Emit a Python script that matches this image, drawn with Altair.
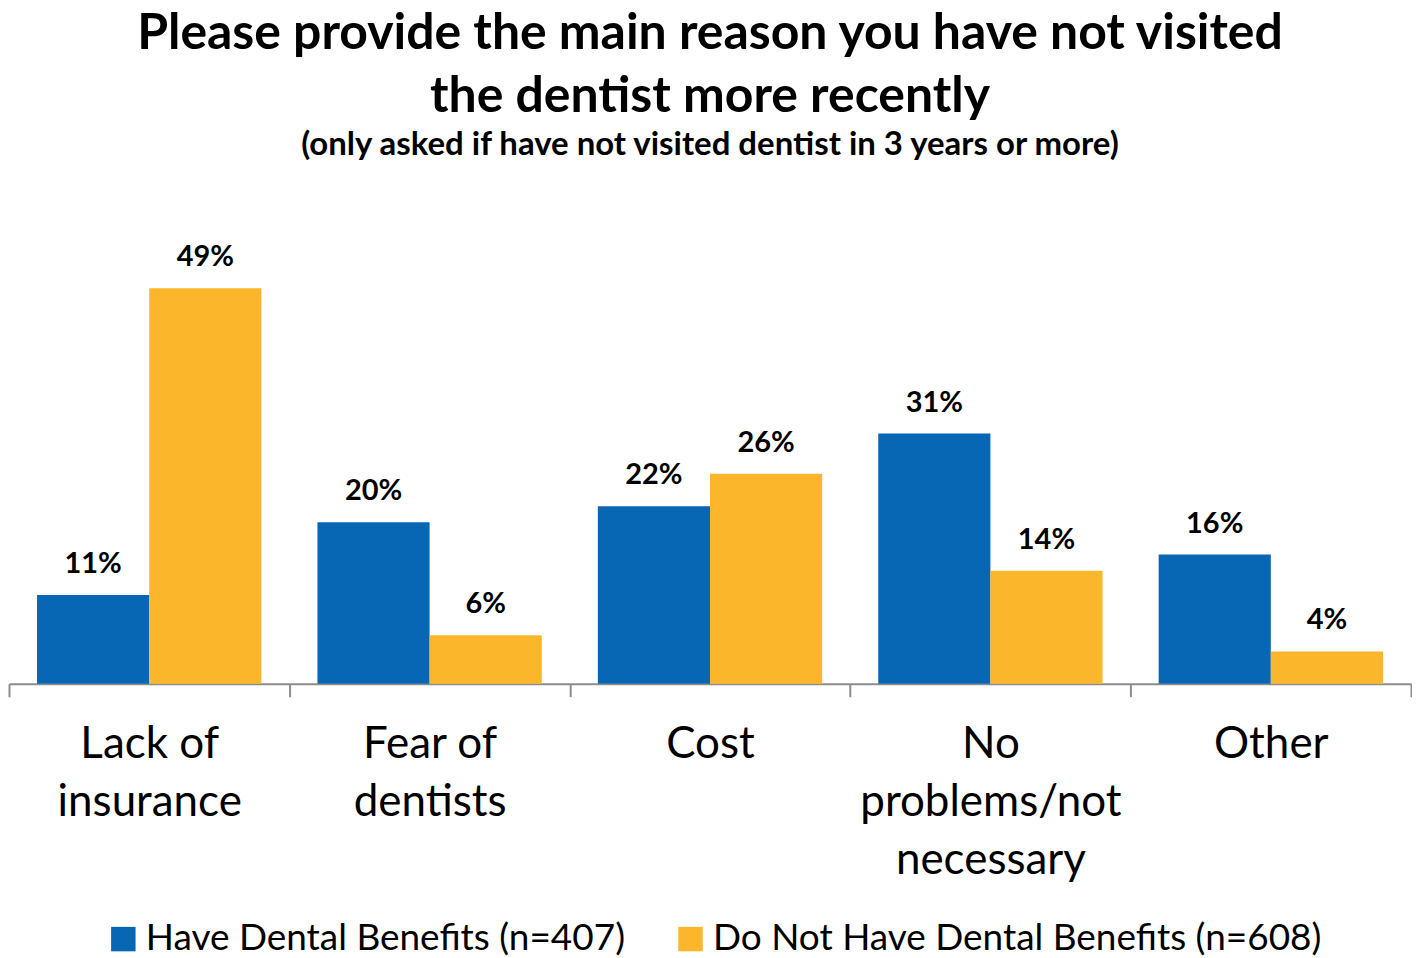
import altair as alt
import pandas as pd

categories = ["Lack of|insurance", "Fear of|dentists", "Cost", "No|problems/not|necessary", "Other"]
groups = ["Have Dental Benefits (n=407)", "Do Not Have Dental Benefits (n=608)"]
have_benefits = [11, 20, 22, 31, 16]
no_benefits = [49, 6, 26, 14, 4]
colors = ["#0767B5", "#FBB62B"]

rows = []
for c, a, b in zip(categories, have_benefits, no_benefits):
    rows.append({"reason": c, "group": groups[0], "value": a, "label": f"{a}%"})
    rows.append({"reason": c, "group": groups[1], "value": b, "label": f"{b}%"})
df = pd.DataFrame(rows)

FONT = "Lato"

x = alt.X(
    "reason:N",
    sort=categories,
    scale=alt.Scale(paddingInner=0, paddingOuter=0),
    axis=alt.Axis(
        title=None,
        labelAngle=0,
        labelFont=FONT,
        labelFontSize=44,
        labelColor="#000000",
        labelLineHeight=58,
        labelPadding=26,
        labelLimit=500,
        labelExpr="split(datum.label, '|')",
        tickBand="extent",
        tickSize=13,
        tickWidth=2,
        tickColor="#8C8C8C",
        domainColor="#8C8C8C",
        domainWidth=2,
    ),
)
xoff = alt.XOffset("group:N", sort=groups, scale=alt.Scale(paddingOuter=0.25, paddingInner=0))
y = alt.Y("value:Q", scale=alt.Scale(domain=[0, 60]), axis=None)

base = alt.Chart(df)

bars = base.mark_bar().encode(
    x=x,
    xOffset=xoff,
    y=y,
    color=alt.Color(
        "group:N",
        sort=groups,
        scale=alt.Scale(domain=groups, range=colors),
        legend=alt.Legend(
            title=None,
            orient="none",
            direction="horizontal",
            legendX=96,
            legendY=722,
            symbolType="square",
            symbolSize=600,
            symbolStrokeWidth=0,
            labelFont=FONT,
            labelFontSize=37,
            labelColor="#000000",
            labelLimit=800,
            columnPadding=46,
            symbolOffset=0,
        ),
    ),
)

labels = base.mark_text(
    font=FONT, fontSize=29, fontWeight="bold", color="#000000", dy=-22, baseline="alphabetic"
).encode(x=x, xOffset=xoff, y=y, text="label:N")

chart = (
    alt.layer(bars, labels)
    .properties(
        width=1404,
        height=485,
        padding={"left": 0, "right": 0, "top": 0, "bottom": 0},
        title=alt.TitleParams(
            text=["Please provide the main reason you have not visited", "the dentist more recently"],
            subtitle="(only asked if have not visited dentist in 3 years or more)",
            font=FONT,
            fontSize=50,
            fontWeight="bold",
            lineHeight=63,
            color="#000000",
            subtitleFont=FONT,
            subtitleFontSize=33,
            subtitleFontWeight="bold",
            subtitleColor="#000000",
            subtitlePadding=8,
            anchor="middle",
            offset=37,
        ),
    )
    .configure_view(stroke=None)
)

chart.save("out.html", embed_options={"renderer": "svg", "actions": False})
